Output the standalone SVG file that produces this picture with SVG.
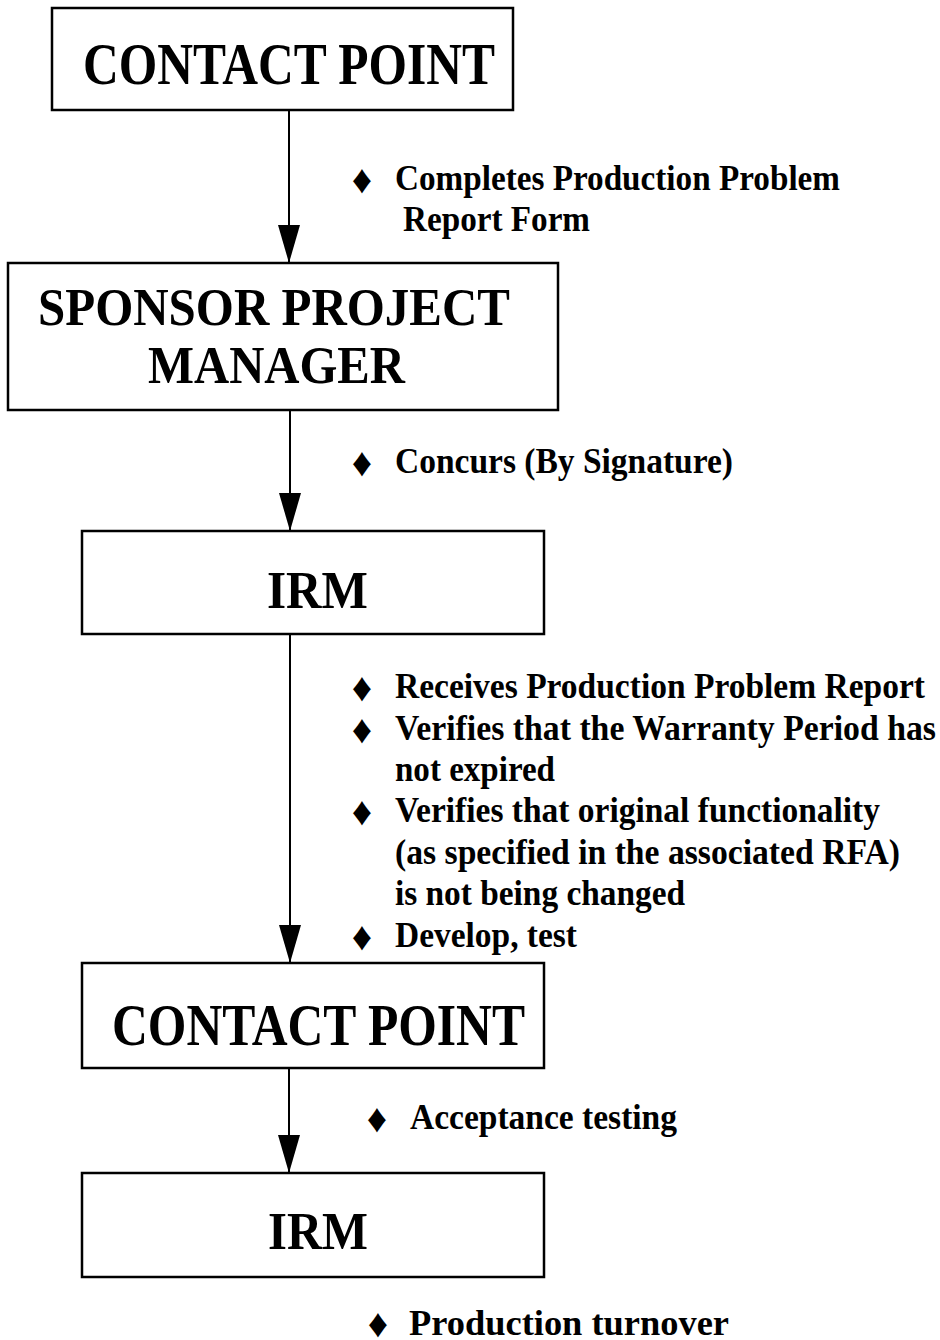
<svg xmlns="http://www.w3.org/2000/svg" width="940" height="1340" viewBox="0 0 940 1340">
<style>
.box{fill:#fff;stroke:#000;stroke-width:2.5}
.big{font-family:"Liberation Serif","Times New Roman",serif;font-weight:bold;fill:#000}
.b{font-family:"Liberation Serif","Times New Roman",serif;font-weight:bold;font-size:36px;fill:#000}
.d{font-family:"Liberation Sans","DejaVu Sans",sans-serif;font-size:40px;fill:#000;text-anchor:middle}
.line{stroke:#000;stroke-width:2;fill:none;marker-end:url(#ah)}
</style>
<defs>
<marker id="ah" viewBox="0 0 38 22" refX="38" refY="11" markerWidth="38" markerHeight="22" markerUnits="userSpaceOnUse" orient="auto">
<path d="M0,0 L38,11 L0,22 Z" fill="#000"/>
</marker>
</defs>
<rect width="940" height="1340" fill="#fff"/>
<g id="connectors">
<line class="line" x1="289" y1="110" x2="289" y2="263"/>
<line class="line" x1="290" y1="410" x2="290" y2="531"/>
<line class="line" x1="290" y1="634" x2="290" y2="963"/>
<line class="line" x1="289" y1="1068" x2="289" y2="1173"/>
</g>
<g id="n1">
<rect class="box" x="52" y="8" width="461" height="102"/>
<text class="big" x="83" y="84" font-size="60" textLength="412" lengthAdjust="spacingAndGlyphs">CONTACT POINT</text>
</g>
<g id="n2">
<rect class="box" x="8" y="263" width="550" height="147"/>
<text class="big" x="38" y="325" font-size="53" textLength="472" lengthAdjust="spacingAndGlyphs">SPONSOR PROJECT</text>
<text class="big" x="148" y="383" font-size="53" textLength="257" lengthAdjust="spacingAndGlyphs">MANAGER</text>
</g>
<g id="n3">
<rect class="box" x="82" y="531" width="462" height="103"/>
<text class="big" x="267" y="608" font-size="53" textLength="101" lengthAdjust="spacingAndGlyphs">IRM</text>
</g>
<g id="n4">
<rect class="box" x="82" y="963" width="462" height="105"/>
<text class="big" x="112" y="1045" font-size="60" textLength="413" lengthAdjust="spacingAndGlyphs">CONTACT POINT</text>
</g>
<g id="n5">
<rect class="box" x="82" y="1173" width="462" height="104"/>
<text class="big" x="268" y="1249" font-size="53" textLength="100" lengthAdjust="spacingAndGlyphs">IRM</text>
</g>
<g id="labels">
<text class="d" x="362" y="193">♦</text>
<text class="b" x="395" y="190" textLength="445" lengthAdjust="spacingAndGlyphs">Completes Production Problem</text>
<text class="b" x="403" y="231" textLength="187" lengthAdjust="spacingAndGlyphs">Report Form</text>
<text class="d" x="362" y="476">♦</text>
<text class="b" x="395" y="473" textLength="338" lengthAdjust="spacingAndGlyphs">Concurs (By Signature)</text>
<text class="d" x="362" y="701">♦</text>
<text class="b" x="395" y="698" textLength="530" lengthAdjust="spacingAndGlyphs">Receives Production Problem Report</text>
<text class="d" x="362" y="743">♦</text>
<text class="b" x="395" y="740" textLength="541" lengthAdjust="spacingAndGlyphs">Verifies that the Warranty Period has</text>
<text class="b" x="395" y="781" textLength="160" lengthAdjust="spacingAndGlyphs">not expired</text>
<text class="d" x="362" y="825">♦</text>
<text class="b" x="395" y="822" textLength="485" lengthAdjust="spacingAndGlyphs">Verifies that original functionality</text>
<text class="b" x="395" y="864" textLength="505" lengthAdjust="spacingAndGlyphs">(as specified in the associated RFA)</text>
<text class="b" x="395" y="905" textLength="290" lengthAdjust="spacingAndGlyphs">is not being changed</text>
<text class="d" x="362" y="950">♦</text>
<text class="b" x="395" y="947" textLength="182" lengthAdjust="spacingAndGlyphs">Develop, test</text>
<text class="d" x="377" y="1132">♦</text>
<text class="b" x="410" y="1129" textLength="267" lengthAdjust="spacingAndGlyphs">Acceptance testing</text>
<text class="d" x="378" y="1337">♦</text>
<text class="b" x="409" y="1335" textLength="320" lengthAdjust="spacingAndGlyphs">Production turnover</text>
</g>
</svg>
